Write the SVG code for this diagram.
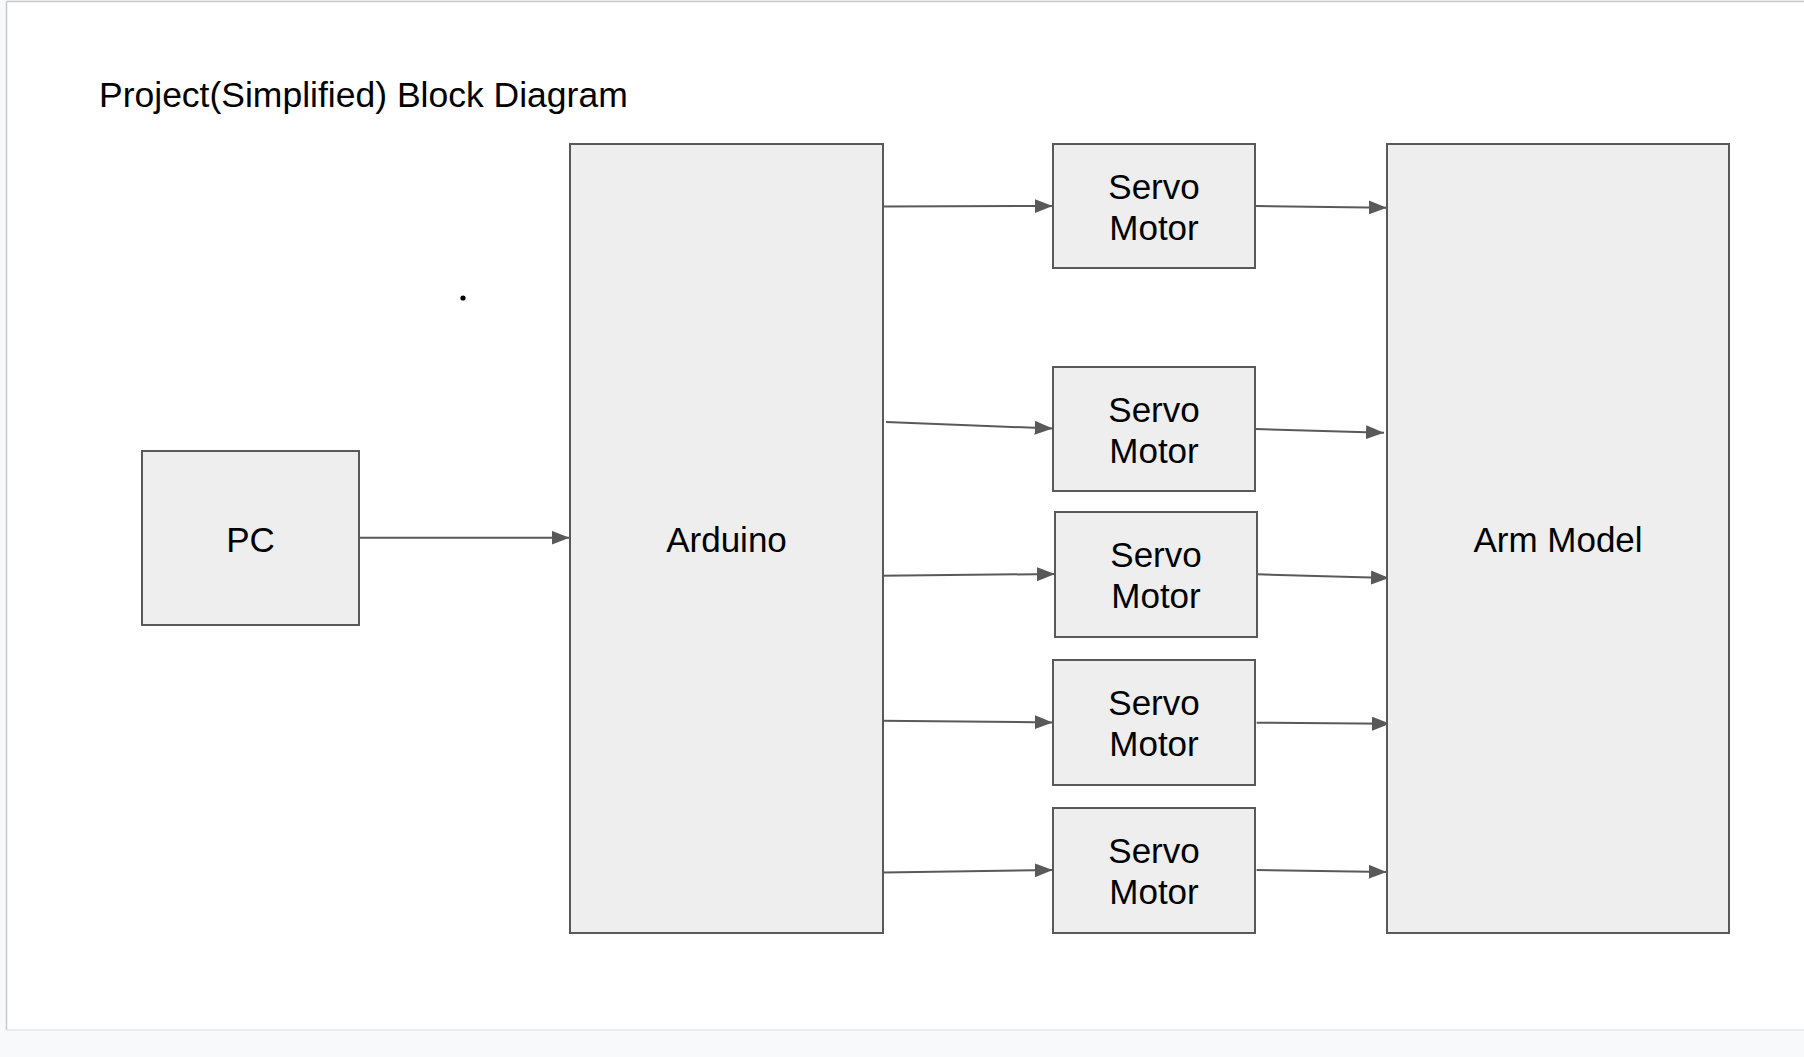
<svg xmlns="http://www.w3.org/2000/svg" width="1804" height="1057" viewBox="0 0 1804 1057">
<style>
.box{fill:#eeeeee;stroke:#595959;stroke-width:2}
.lbl{font-family:"Liberation Sans",Arial,sans-serif;font-size:35px;fill:#000000;text-anchor:middle}
.title{font-family:"Liberation Sans",Arial,sans-serif;font-size:35.5px;fill:#000000}
.conn{stroke:#595959;stroke-width:2;fill:none;marker-end:url(#arr)}
</style>
<defs>
<marker id="arr" markerUnits="userSpaceOnUse" markerWidth="19" markerHeight="15" refX="18" refY="7" orient="auto">
<path d="M0,0 L18,7 L0,14 Z" fill="#595959"/>
</marker>
</defs>
<rect x="0" y="0" width="1804" height="1057" fill="#f8f9fa"/>
<rect x="6.5" y="1.5" width="1800" height="1028.5" fill="#ffffff"/>
<line x1="6.5" y1="1.5" x2="1804" y2="1.5" stroke="#c8c8c8" stroke-width="1.5"/>
<line x1="6.5" y1="1.5" x2="6.5" y2="1030" stroke="#c8c8c8" stroke-width="1.5"/>
<line x1="6.5" y1="1030" x2="1804" y2="1030" stroke="#e6e6e6" stroke-width="1.5"/>
<text id="title" class="title" x="99" y="106.5">Project(Simplified) Block Diagram</text>
<circle cx="463" cy="298" r="2.6" fill="#000000"/>
<g id="connectors">
<line class="conn" x1="359" y1="537.7" x2="569.5" y2="537.7"/>
<line class="conn" x1="882.6" y1="206.5" x2="1052.7" y2="206"/>
<line class="conn" x1="886" y1="422" x2="1052.7" y2="428.5"/>
<line class="conn" x1="880" y1="575.7" x2="1055" y2="574"/>
<line class="conn" x1="880" y1="720.7" x2="1052.7" y2="722.4"/>
<line class="conn" x1="883.6" y1="872.4" x2="1052.7" y2="870"/>
<line class="conn" x1="1255.4" y1="206" x2="1386.8" y2="207.7"/>
<line class="conn" x1="1255.4" y1="429" x2="1384" y2="432.7"/>
<line class="conn" x1="1257" y1="574.3" x2="1389" y2="578"/>
<line class="conn" x1="1256.6" y1="722.7" x2="1390" y2="723.8"/>
<line class="conn" x1="1256.6" y1="870" x2="1386.6" y2="872"/>
</g>
<g id="pc">
<rect class="box" x="142" y="451" width="217" height="174"/>
<text class="lbl" x="250.5" y="551.5">PC</text>
</g>
<g id="arduino">
<rect class="box" x="570" y="144" width="313" height="789"/>
<text class="lbl" x="726.5" y="551.5">Arduino</text>
</g>
<g id="servo1">
<rect class="box" x="1053" y="144" width="202" height="124"/>
<text class="lbl" x="1154" y="198.5">Servo</text>
<text class="lbl" x="1154" y="240">Motor</text>
</g>
<g id="servo2">
<rect class="box" x="1053" y="367" width="202" height="124"/>
<text class="lbl" x="1154" y="421.5">Servo</text>
<text class="lbl" x="1154" y="463">Motor</text>
</g>
<g id="servo3">
<rect class="box" x="1055" y="512" width="202" height="125"/>
<text class="lbl" x="1156" y="566.5">Servo</text>
<text class="lbl" x="1156" y="608">Motor</text>
</g>
<g id="servo4">
<rect class="box" x="1053" y="660" width="202" height="125"/>
<text class="lbl" x="1154" y="714.5">Servo</text>
<text class="lbl" x="1154" y="756">Motor</text>
</g>
<g id="servo5">
<rect class="box" x="1053" y="808" width="202" height="125"/>
<text class="lbl" x="1154" y="862.5">Servo</text>
<text class="lbl" x="1154" y="904">Motor</text>
</g>
<g id="arm">
<rect class="box" x="1387" y="144" width="342" height="789"/>
<text class="lbl" x="1558" y="551.5">Arm Model</text>
</g>
</svg>
